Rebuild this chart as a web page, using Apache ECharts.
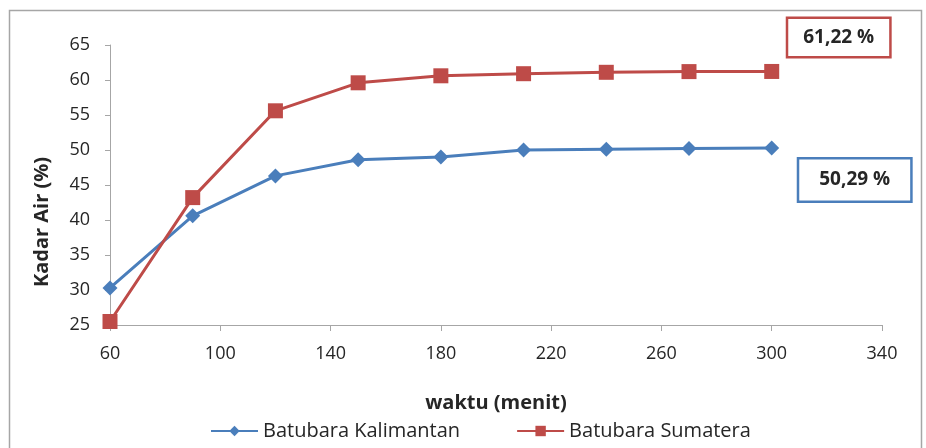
<!DOCTYPE html>
<html>
<head>
<meta charset="utf-8">
<title>Kadar Air</title>
<script src="https://cdn.jsdelivr.net/npm/echarts@6/dist/echarts.min.js"></script>
<style>
  html, body { margin: 0; padding: 0; background: #ffffff; }
  #chart { width: 926px; height: 448px; }
</style>
</head>
<body>
<div id="chart"></div>
<script>
// waktu (menit)
const waktu = [60, 90, 120, 150, 180, 210, 240, 270, 300];
// Kadar air (%) per jenis batubara
const kalimantan = [30.3, 40.6, 46.3, 48.6, 49.0, 50.0, 50.1, 50.2, 50.29];
const sumatera = [25.5, 43.2, 55.6, 59.6, 60.6, 60.9, 61.1, 61.2, 61.22];
// label sumbu x
const xTicks = [60, 100, 140, 180, 220, 260, 300, 340];

const FONT = '"Open Sans", "Noto Sans", sans-serif';
const TEXT = '#262626';
const BLUE = '#4a7ebb';
const RED = '#be4b48';

function pairs(xs, ys) {
  return xs.map((x, i) => [x, ys[i]]);
}
function pct(v) {
  return v.toFixed(2).replace('.', ',') + ' %';
}
// kotak keterangan nilai akhir pada titik terakhir
function withEndLabel(data, color, offset, padding) {
  const last = data.length - 1;
  return data.map((d, i) => i !== last ? d : {
    value: d,
    label: {
      show: true,
      position: 'inside',
      offset: offset,
      formatter: p => pct(p.value[1]),
      fontFamily: FONT,
      fontWeight: 'bold',
      fontSize: 19,
      color: TEXT,
      backgroundColor: '#ffffff',
      borderColor: color,
      borderWidth: 2.5,
      padding: padding
    }
  });
}

const chart = echarts.init(document.getElementById('chart'));
chart.setOption({
  backgroundColor: '#ffffff',
  animation: false,
  graphic: [{
    type: 'rect',
    left: 7, top: 8,
    shape: { width: 912, height: 440 },
    style: { fill: 'none', stroke: '#a6a6a6', lineWidth: 1.5 },
    silent: true
  }],
  grid: { left: 110, right: 44, top: 45, bottom: 123 },
  legend: {
    bottom: 2,
    left: 205,
    itemGap: 56,
    itemWidth: 47,
    itemHeight: 13,
    textStyle: { fontFamily: FONT, fontSize: 20, color: TEXT },
    data: ['Batubara Kalimantan', 'Batubara Sumatera']
  },
  xAxis: {
    type: 'value',
    min: 60,
    max: 340,
    name: 'waktu (menit)',
    nameLocation: 'middle',
    nameGap: 68,
    nameTextStyle: { fontFamily: FONT, fontSize: 20, fontWeight: 'bold', color: TEXT },
    splitLine: { show: false },
    axisLine: { lineStyle: { color: '#a6a6a6', width: 1 } },
    axisTick: { show: true, length: 6, customValues: xTicks, lineStyle: { color: '#a6a6a6' } },
    axisLabel: { customValues: xTicks, fontFamily: FONT, fontSize: 18, color: TEXT, margin: 20 }
  },
  yAxis: {
    type: 'value',
    min: 25,
    max: 65,
    interval: 5,
    name: 'Kadar Air (%)',
    nameLocation: 'middle',
    nameGap: 58,
    nameTextStyle: {
      fontFamily: FONT, fontSize: 20, fontWeight: 'bold', color: TEXT,
      padding: [0, 74, 0, 0]
    },
    splitLine: { show: false },
    axisLine: { show: true, lineStyle: { color: '#a6a6a6', width: 1 } },
    axisTick: { show: true, length: 5, lineStyle: { color: '#a6a6a6' } },
    axisLabel: { fontFamily: FONT, fontSize: 18, color: TEXT, margin: 20 }
  },
  series: [
    {
      name: 'Batubara Kalimantan',
      type: 'line',
      data: withEndLabel(pairs(waktu, kalimantan), BLUE, [83, 32], [11, 20, 11, 20]),
      symbol: 'diamond',
      symbolSize: 15,
      color: BLUE,
      lineStyle: { width: 3, color: BLUE },
      itemStyle: { color: BLUE },
      z: 3
    },
    {
      name: 'Batubara Sumatera',
      type: 'line',
      data: withEndLabel(pairs(waktu, sumatera), RED, [67, -34], [9, 15, 9, 15]),
      symbol: 'rect',
      symbolSize: 15,
      color: RED,
      lineStyle: { width: 3, color: RED },
      itemStyle: { color: RED },
      z: 4
    }
  ]
});
</script>
</body>
</html>
